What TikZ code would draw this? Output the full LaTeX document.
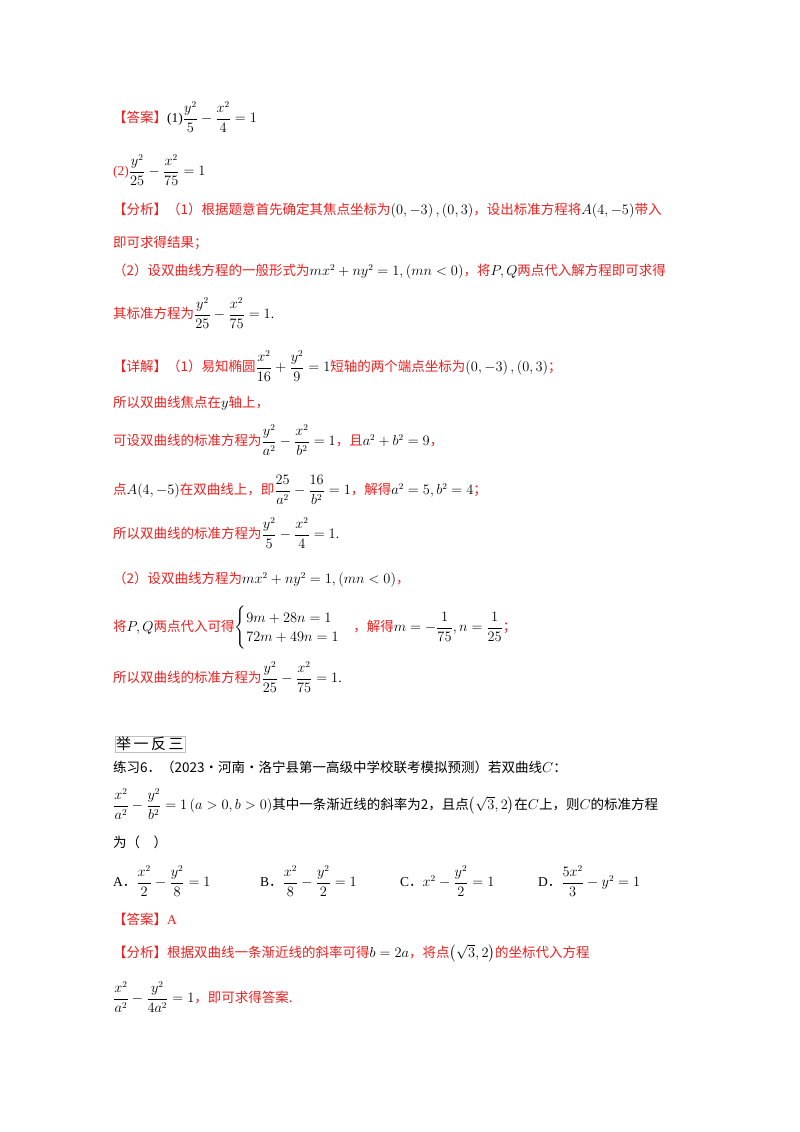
\documentclass[tikz,border=0pt]{standalone}
\usepackage{amsmath}
\usepackage{fontspec}
\setmainfont{Liberation Serif}
\newfontfamily\cjk{Noto Sans CJK SC}
\definecolor{rd}{RGB}{238,32,32}
\newcommand{\R}[1]{\textcolor{rd}{\cjk #1}}
\newcommand{\K}[1]{{\cjk #1}}
\begin{document}
\begin{tikzpicture}[x=1pt,y=-1pt,
  ln/.style={anchor=west,inner sep=0pt,font=\fontsize{13.5}{16}\selectfont}]
\fill[white] (0,0) rectangle (800,1132);
\useasboundingbox (0,0) rectangle (800,1132);
\node[ln] (l1) at (113,117) {\R{【答案】}(1)$\dfrac{y^2}{5}-\dfrac{x^2}{4}=1$};
\node[ln] (l2) at (113,170) {\textcolor{rd}{(2)}$\dfrac{y^2}{25}-\dfrac{x^2}{75}=1$};
\node[ln] (l3) at (113,211) {\R{【分析】（1）根据题意首先确定其焦点坐标为}$\left(0,-3\right),\left(0,3\right)$\R{，设出标准方程将}$A(4,-5)$\R{带入}};
\node[ln] (l4) at (113,243) {\R{即可求得结果；}};
\node[ln] (l5) at (113,272) {\R{（2）设双曲线方程的一般形式为}$mx^2+ny^2=1,\left(mn<0\right)$\R{，将}$P,Q$\R{两点代入解方程即可求得}};
\node[ln] (l6) at (113,313) {\R{其标准方程为}$\dfrac{y^2}{25}-\dfrac{x^2}{75}=1$.};
\node[ln] (l7) at (113,366) {\R{【详解】（1）易知椭圆}$\dfrac{x^2}{16}+\dfrac{y^2}{9}=1$\R{短轴的两个端点坐标为}$\left(0,-3\right),\left(0,3\right)$\R{；}};
\node[ln] (l8) at (113,403) {\R{所以双曲线焦点在}$y$\R{轴上，}};
\node[ln] (l9) at (113,440) {\R{可设双曲线的标准方程为}$\dfrac{y^2}{a^2}-\dfrac{x^2}{b^2}=1$\R{，且}$a^2+b^2=9$\R{，}};
\node[ln] (l10) at (113,490) {\R{点}$A(4,-5)$\R{在双曲线上，即}$\dfrac{25}{a^2}-\dfrac{16}{b^2}=1$\R{，解得}$a^2=5,b^2=4$\R{；}};
\node[ln] (l11) at (113,533) {\R{所以双曲线的标准方程为}$\dfrac{y^2}{5}-\dfrac{x^2}{4}=1$.};
\node[ln] (l12) at (113,580) {\R{（2）设双曲线方程为}$mx^2+ny^2=1,\left(mn<0\right)$\R{，}};
\node[ln] (l13) at (113,628) {\R{将}$P,Q$\R{两点代入可得}$\begin{cases}9m+28n=1\\72m+49n=1\end{cases}$\R{，解得}$m=-\dfrac{1}{75},n=\dfrac{1}{25}$\R{；}};
\node[ln] (l14) at (113,677) {\R{所以双曲线的标准方程为}$\dfrac{y^2}{25}-\dfrac{x^2}{75}=1$.};
\node[anchor=west,inner sep=1pt,draw=gray!50,font=\fontsize{15}{17}\selectfont\cjk] (hd) at (115,744) {举\,一\,反\,三};
\node[ln] (l15) at (113,767) {\K{练习6．（2023·河南·洛宁县第一高级中学校联考模拟预测）若双曲线}$C$\K{：}};
\node[ln] (l16) at (113,804) {$\dfrac{x^2}{a^2}-\dfrac{y^2}{b^2}=1\left(a>0,b>0\right)$\K{其中一条渐近线的斜率为2，且点}$\left(\sqrt{3},2\right)$\K{在}$C$\K{上，则}$C$\K{的标准方程}};
\node[ln] (l17) at (113,842) {\K{为（\quad）}};
\node[ln] (oa) at (113,881) {A\K{．}$\dfrac{x^2}{2}-\dfrac{y^2}{8}=1$};
\node[ln] (ob) at (260,881) {B\K{．}$\dfrac{x^2}{8}-\dfrac{y^2}{2}=1$};
\node[ln] (oc) at (400,881) {C\K{．}$x^2-\dfrac{y^2}{2}=1$};
\node[ln] (od) at (538,881) {D\K{．}$\dfrac{5x^2}{3}-y^2=1$};
\node[ln] (l18) at (113,919) {\R{【答案】}\textcolor{rd}{A}};
\node[ln] (l19) at (113,953) {\R{【分析】根据双曲线一条渐近线的斜率可得}$b=2a$\R{，将点}$\left(\sqrt{3},2\right)$\R{的坐标代入方程}};
\node[ln] (l20) at (113,997) {$\dfrac{x^2}{a^2}-\dfrac{y^2}{4a^2}=1$\R{，即可求得答案.}};
\end{tikzpicture}
\end{document}
